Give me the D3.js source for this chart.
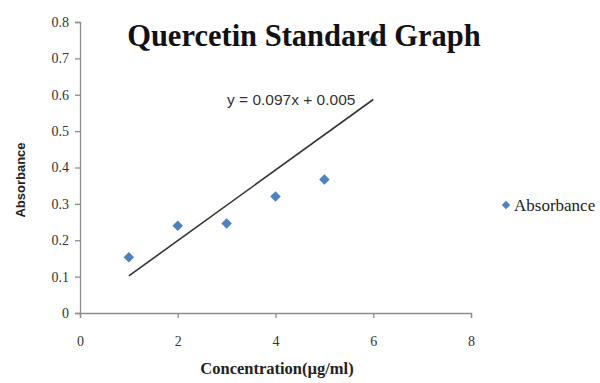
<!DOCTYPE html>
<html>
<head>
<meta charset="utf-8">
<script src="https://cdn.jsdelivr.net/npm/d3@7"></script>
<style>
  body { margin: 0; background: #fff; }
  svg { display: block; }
</style>
</head>
<body>
<div id="chart"></div>
<script>
// data
var concentration = [1, 2, 3, 4, 5, 6];
var absorbance    = [0.153, 0.240, 0.246, 0.320, 0.367, 0.750];
var xTicks = [0, 2, 4, 6, 8];
var yTicks = [0, 0.1, 0.2, 0.3, 0.4, 0.5, 0.6, 0.7, 0.8];
var slope = 0.097, intercept = 0.005;   // trend line, y = 0.097x + 0.005

var width = 600, height = 383;
var margin = { left: 80, right: 129, top: 22, bottom: 70 };

var svg = d3.select('#chart').append('svg')
  .attr('width', width)
  .attr('height', height);

var x = d3.scaleLinear().domain([0, 8]).range([margin.left, width - margin.right]);
var y = d3.scaleLinear().domain([0, 0.8]).range([height - margin.bottom, margin.top]);

// y axis
var yAxis = svg.append('g')
  .attr('transform', 'translate(' + margin.left + ',0)')
  .call(d3.axisLeft(y).tickValues(yTicks).tickSize(5).tickPadding(6)
    .tickFormat(function(d) { return d === 0 ? '0' : d3.format('.1f')(d); }));

// x axis
var xAxis = svg.append('g')
  .attr('transform', 'translate(0,' + y(0) + ')')
  .call(d3.axisBottom(x).tickValues(xTicks).tickSize(5).tickPadding(18));

[xAxis, yAxis].forEach(function(a) {
  a.select('.domain').attr('stroke', '#8c8c8c').attr('stroke-width', 1.3);
  a.selectAll('.tick line').attr('stroke', '#8c8c8c').attr('stroke-width', 1.3);
  a.selectAll('.tick text')
    .attr('fill', '#333')
    .style('font-family', '"Liberation Serif", "Times New Roman", serif')
    .style('font-size', '14px');
});

// trend line
var trendX = [1, 6];
svg.append('line')
  .attr('x1', x(trendX[0])).attr('y1', y(slope * trendX[0] + intercept))
  .attr('x2', x(trendX[1])).attr('y2', y(slope * trendX[1] + intercept))
  .attr('stroke', '#333')
  .attr('stroke-width', 1.6);

// points
var diamond = d3.symbol().type(d3.symbolDiamond2).size(70);
svg.selectAll('path.pt').data(concentration).enter().append('path')
  .attr('class', 'pt')
  .attr('d', diamond)
  .attr('transform', function(d, i) { return 'translate(' + x(d) + ',' + y(absorbance[i]) + ')'; })
  .attr('fill', '#4f81bd');

// equation label
svg.append('text')
  .attr('x', 227).attr('y', 105)
  .style('font-family', '"Liberation Sans", Arial, sans-serif')
  .style('font-size', '15.5px')
  .attr('fill', '#333')
  .text('y = 0.097x + 0.005');

// title (drawn over the last point, as in the original)
svg.append('text')
  .attr('x', 304).attr('y', 46)
  .attr('text-anchor', 'middle')
  .style('font-family', '"Liberation Serif", "Times New Roman", serif')
  .style('font-weight', 'bold')
  .style('font-size', '30.5px')
  .attr('fill', '#111')
  .text('Quercetin Standard Graph');

// axis titles
svg.append('text')
  .attr('x', 277).attr('y', 374)
  .attr('text-anchor', 'middle')
  .style('font-family', '"Liberation Serif", "Times New Roman", serif')
  .style('font-weight', 'bold')
  .style('font-size', '16.5px')
  .attr('fill', '#222')
  .text('Concentration(µg/ml)');

svg.append('text')
  .attr('transform', 'translate(25,180) rotate(-90)')
  .attr('text-anchor', 'middle')
  .style('font-family', '"Liberation Sans", Arial, sans-serif')
  .style('font-weight', 'bold')
  .style('font-size', '13px')
  .attr('fill', '#222')
  .text('Absorbance');

// legend
var legend = svg.append('g').attr('transform', 'translate(506,205)');
legend.append('path')
  .attr('d', d3.symbol().type(d3.symbolDiamond2).size(45))
  .attr('fill', '#4f81bd');
legend.append('text')
  .attr('x', 8).attr('y', 5.5)
  .style('font-family', '"Liberation Serif", "Times New Roman", serif')
  .style('font-size', '17px')
  .attr('fill', '#222')
  .text('Absorbance');
</script>
</body>
</html>
